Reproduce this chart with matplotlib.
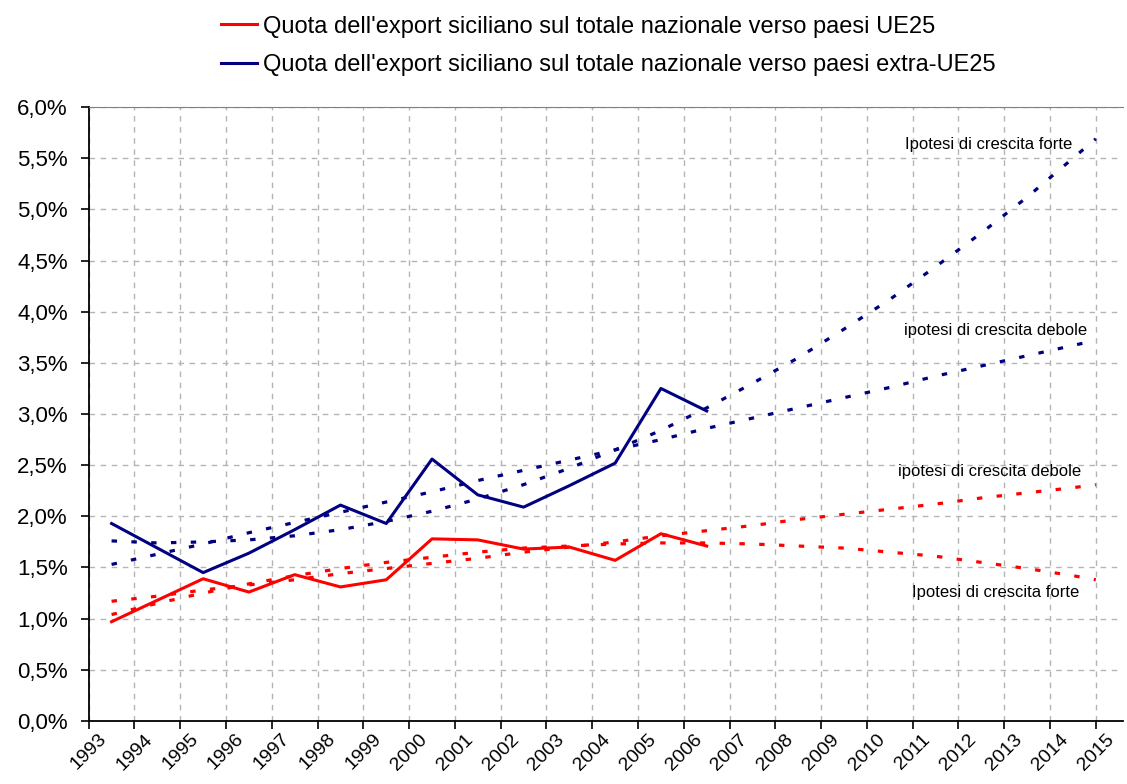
import numpy as np
import matplotlib
matplotlib.use('Agg')
from matplotlib import pyplot as plt
from matplotlib.ticker import FuncFormatter

plt.rcParams['font.family'] = ['Liberation Sans', 'DejaVu Sans']

# dati osservati (posizionati a metà anno come nel grafico originale)
anni = [1993, 1994, 1995, 1996, 1997, 1998, 1999, 2000, 2001, 2002, 2003, 2004, 2005, 2006]
quota_ue25 = [0.97, 1.18, 1.39, 1.26, 1.43, 1.31, 1.38, 1.78, 1.77, 1.68, 1.70, 1.57, 1.83, 1.71]
quota_extra = [1.93, 1.69, 1.45, 1.64, 1.87, 2.11, 1.93, 2.56, 2.21, 2.09, 2.30, 2.52, 3.25, 3.03]

# ipotesi di crescita (tendenze) 1993.5 ... 2014.5 + 2015
x_trend = [1993.5, 1994.5, 1995.5, 1996.5, 1997.5, 1998.5, 1999.5, 2000.5, 2001.5, 2002.5,
           2003.5, 2004.5, 2005.5, 2006.5, 2007.5, 2008.5, 2009.5, 2010.5, 2011.5, 2012.5,
           2013.5, 2014.5, 2015.0]
ue_debole = [1.17, 1.22, 1.28, 1.33, 1.38, 1.44, 1.49, 1.54, 1.59, 1.65, 1.70, 1.75,
             1.81, 1.86, 1.91, 1.97, 2.02, 2.07, 2.12, 2.18, 2.23, 2.28, 2.31]
ue_forte = [1.04, 1.15, 1.25, 1.34, 1.42, 1.49, 1.55, 1.60, 1.65, 1.69, 1.71, 1.73,
            1.74, 1.74, 1.73, 1.71, 1.69, 1.65, 1.61, 1.55, 1.49, 1.42, 1.38]
extra_debole = [1.53, 1.63, 1.73, 1.84, 1.94, 2.04, 2.14, 2.24, 2.35, 2.45, 2.55, 2.65,
                2.75, 2.86, 2.96, 3.06, 3.16, 3.26, 3.37, 3.47, 3.57, 3.67, 3.72]
extra_forte = [1.76, 1.74, 1.75, 1.77, 1.81, 1.87, 1.95, 2.05, 2.17, 2.31, 2.47, 2.65,
               2.84, 3.06, 3.30, 3.55, 3.83, 4.12, 4.44, 4.77, 5.12, 5.50, 5.69]

tick_anni = list(range(1993, 2016))

rosso = '#ff0000'
blu = '#000080'

fig = plt.figure(figsize=(11.27, 7.84), dpi=100)
ax = fig.add_axes([0.0787, 0.0804, 0.918, 0.783])

x_oss = np.array(anni) + 0.5
ax.plot(x_oss, quota_ue25, color=rosso, lw=2.2,
        label="Quota dell'export siciliano sul totale nazionale verso paesi UE25")
ax.plot(x_oss, quota_extra, color=blu, lw=2.2,
        label="Quota dell'export siciliano sul totale nazionale verso paesi extra-UE25")

for serie, col in [(ue_debole, rosso), (ue_forte, rosso), (extra_debole, blu), (extra_forte, blu)]:
    ax.plot(x_trend, serie, color=col, lw=2.3, dashes=(1.7, 4.5))

ax.set_xlim(1993, 2015.6)
ax.set_ylim(0, 6)
ax.set_xticks(tick_anni)
ax.set_xticklabels([str(a) for a in tick_anni], rotation=45, ha='center', fontsize=14)
ax.set_yticks(np.arange(0, 6.01, 0.5))
ax.yaxis.set_major_formatter(FuncFormatter(lambda v, p: ('%.1f%%' % v).replace('.', ',')))
ax.tick_params(axis='y', labelsize=16, length=6, width=1.2, direction='out', pad=9)
ax.tick_params(axis='x', length=6, width=1.2, direction='out', pad=1)

ax.grid(True, color='#b4b4b4', linestyle=(0, (4, 4)), lw=1)
ax.set_axisbelow(True)
ax.spines['right'].set_visible(False)
ax.spines['top'].set_color('#808080')
ax.spines['left'].set_linewidth(1.3)
ax.spines['bottom'].set_linewidth(1.3)

kw = dict(fontsize=12, ha='right', va='center')
ax.text(2014.49, 5.63, 'Ipotesi di crescita forte', **kw)
ax.text(2014.82, 3.82, 'ipotesi di crescita debole', **kw)
ax.text(2014.69, 2.44, 'ipotesi di crescita debole', **kw)
ax.text(2014.64, 1.26, 'Ipotesi di crescita forte', **kw)

fig.legend(loc='upper left', bbox_to_anchor=(0.177, 1.007), frameon=False, fontsize=17,
           handlelength=1.55, handletextpad=0.25, labelspacing=0.68)

plt.savefig('out.png', dpi=100)
